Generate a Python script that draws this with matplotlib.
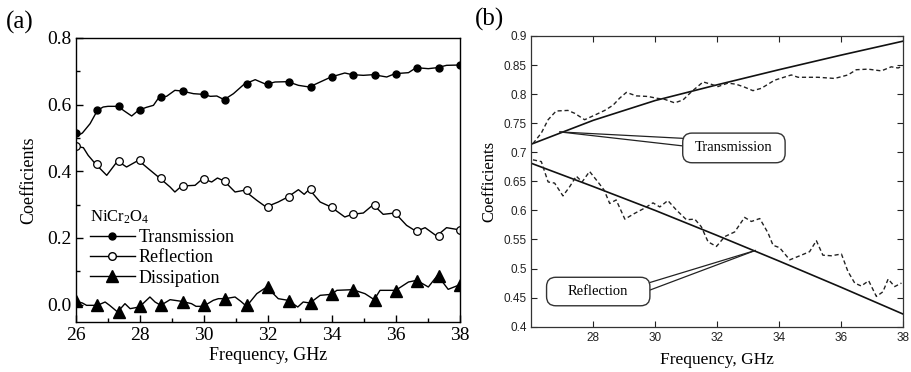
import matplotlib
matplotlib.use('Agg')
import matplotlib.pyplot as plt
import matplotlib.patches as mpatches
from matplotlib.lines import Line2D
from matplotlib.ticker import MultipleLocator, FixedLocator, FuncFormatter

plt.rcParams['font.family'] = ['Liberation Serif', 'DejaVu Serif']
plt.rcParams['mathtext.default'] = 'regular'

# ---- panel (a): NiCr2O4 measured coefficients ----
marker_freq = [26, 26.67, 27.33, 28, 28.67, 29.33, 30, 30.67, 31.33, 32,
               32.67, 33.33, 34, 34.67, 35.33, 36, 36.67, 37.33, 38]
trans_marks = [0.515, 0.583, 0.595, 0.583, 0.623, 0.641, 0.631, 0.615, 0.661, 0.662,
               0.669, 0.653, 0.683, 0.690, 0.690, 0.693, 0.711, 0.711, 0.719]
refl_marks = [0.475, 0.421, 0.431, 0.433, 0.381, 0.356, 0.378, 0.371, 0.343, 0.293,
              0.323, 0.346, 0.293, 0.271, 0.300, 0.275, 0.220, 0.206, 0.225]
diss_marks = [0.010, 0.000, -0.022, -0.005, 0.000, 0.008, -0.002, 0.018, 0.000, 0.053,
              0.012, 0.005, 0.031, 0.043, 0.014, 0.040, 0.070, 0.085, 0.060]

trans_f = [26.0, 26.07, 26.2, 26.44, 26.67, 26.85, 27.0, 27.33, 27.48, 27.74, 27.95,
           28.2, 28.42, 28.6, 28.83, 29.09, 29.3, 29.67, 29.96, 30.2, 30.4, 30.63,
           30.92, 31.25, 31.6, 31.94, 32.22, 32.62, 32.95, 33.29, 33.63, 33.97, 34.4,
           34.63, 34.98, 35.29, 35.71, 35.97, 36.39, 36.63, 37.01, 37.29, 37.58, 38.0]
trans_v = [0.515, 0.508, 0.515, 0.543, 0.583, 0.593, 0.595, 0.595, 0.583, 0.566, 0.583,
           0.592, 0.598, 0.623, 0.625, 0.643, 0.641, 0.633, 0.631, 0.625, 0.626, 0.615,
           0.633, 0.661, 0.675, 0.661, 0.668, 0.669, 0.658, 0.653, 0.668, 0.683, 0.695,
           0.690, 0.688, 0.690, 0.683, 0.693, 0.696, 0.711, 0.708, 0.711, 0.718, 0.719]

refl_f = [26.0, 26.23, 26.38, 26.62, 26.96, 27.3, 27.58, 27.95, 28.26, 28.6, 28.94,
          29.09, 29.3, 29.72, 29.96, 30.24, 30.42, 30.63, 30.97, 31.25, 31.65, 31.94,
          32.32, 32.62, 32.95, 33.13, 33.29, 33.63, 33.97, 34.4, 34.63, 34.98, 35.29,
          35.6, 35.97, 36.33, 36.63, 36.91, 37.27, 37.58, 37.95, 38.0]
refl_v = [0.475, 0.471, 0.448, 0.421, 0.388, 0.431, 0.413, 0.433, 0.408, 0.381, 0.353,
          0.338, 0.356, 0.358, 0.378, 0.368, 0.380, 0.371, 0.338, 0.343, 0.313, 0.293,
          0.308, 0.323, 0.345, 0.331, 0.346, 0.308, 0.293, 0.263, 0.271, 0.275, 0.300,
          0.271, 0.275, 0.238, 0.220, 0.231, 0.206, 0.231, 0.225, 0.225]

diss_f = [26.0, 26.2, 26.33, 26.67, 26.91, 27.05, 27.3, 27.53, 27.69, 27.98, 28.31,
          28.47, 28.65, 28.94, 29.3, 29.61, 29.75, 29.98, 30.29, 30.45, 30.66, 30.97,
          31.15, 31.33, 31.65, 31.96, 32.32, 32.63, 32.93, 33.1, 33.31, 33.63, 33.99,
          34.15, 34.65, 35.03, 35.32, 35.5, 35.99, 36.39, 36.65, 37.01, 37.3, 37.63, 38.0]
diss_v = [0.010, 0.005, -0.002, -0.002, 0.008, -0.002, -0.022, 0.003, -0.012, -0.007, 0.023,
          0.008, -0.002, 0.015, 0.010, 0.003, -0.005, -0.005, 0.013, 0.018, 0.018, 0.023,
          0.010, -0.005, 0.033, 0.053, 0.018, 0.013, -0.007, 0.008, 0.005, 0.028, 0.031,
          0.043, 0.045, 0.033, 0.015, 0.043, 0.043, 0.068, 0.073, 0.053, 0.088, 0.046, 0.060]

# ---- panel (b): calculated (solid) vs measured (dashed) ----
fit_f = [26, 28, 30, 32, 34, 36, 38]
fit_trans = [0.714, 0.755, 0.789, 0.816, 0.842, 0.867, 0.891]
fit_refl = [0.681, 0.641, 0.600, 0.557, 0.513, 0.468, 0.422]

meas_t_f = [26.05, 26.32, 26.54, 26.8, 27.18, 27.4, 27.72, 28.05, 28.37, 28.64, 28.85,
            29.07, 29.39, 29.77, 30.04, 30.31, 30.63, 30.9, 31.17, 31.55, 31.81, 32.03,
            32.35, 32.62, 32.89, 33.16, 33.43, 33.86, 34.4, 34.62, 35.26, 35.8, 36.23,
            36.5, 36.88, 37.31, 37.63, 37.85, 38.0]
meas_t_v = [0.715, 0.733, 0.756, 0.771, 0.772, 0.767, 0.756, 0.764, 0.772, 0.781, 0.793,
            0.803, 0.797, 0.796, 0.793, 0.791, 0.785, 0.790, 0.804, 0.821, 0.817, 0.813,
            0.819, 0.817, 0.812, 0.806, 0.810, 0.824, 0.833, 0.829, 0.829, 0.827, 0.833,
            0.842, 0.843, 0.840, 0.847, 0.845, 0.848]

meas_r_f = [26.05, 26.32, 26.54, 26.75, 27.02, 27.24, 27.45, 27.64, 27.88, 28.15, 28.35,
            28.53, 28.74, 29.02, 29.34, 29.66, 29.93, 30.15, 30.41, 30.68, 31.01, 31.28,
            31.49, 31.71, 31.98, 32.25, 32.57, 32.89, 33.11, 33.38, 33.65, 33.81, 34.02,
            34.35, 34.72, 34.99, 35.21, 35.42, 35.69, 36.02, 36.23, 36.45, 36.66, 36.9,
            37.15, 37.36, 37.53, 37.74, 37.96]
meas_r_v = [0.687, 0.684, 0.649, 0.647, 0.625, 0.641, 0.659, 0.649, 0.667, 0.649, 0.635,
            0.612, 0.618, 0.585, 0.595, 0.604, 0.613, 0.606, 0.617, 0.601, 0.584, 0.585,
            0.572, 0.546, 0.538, 0.555, 0.563, 0.588, 0.581, 0.586, 0.561, 0.540, 0.536,
            0.515, 0.523, 0.529, 0.548, 0.523, 0.522, 0.525, 0.495, 0.475, 0.470, 0.479,
            0.452, 0.460, 0.482, 0.469, 0.475]

fig = plt.figure(figsize=(9.12, 3.72), dpi=100)

# ================= (a) =================
ax1 = fig.add_axes([76/912, 50/372, 384/912, 284/372])
ax1.plot(trans_f, trans_v, color='k', lw=1.0)
ax1.plot(marker_freq, trans_marks, 'o', color='k', ms=5)
ax1.plot(refl_f, refl_v, color='k', lw=1.0)
ax1.plot(marker_freq, refl_marks, 'o', mfc='white', mec='k', mew=0.9, ms=5.5)
ax1.plot(diss_f, diss_v, color='k', lw=1.0)
ax1.plot(marker_freq, diss_marks, '^', color='k', ms=8)

ax1.set_xlim(26, 38)
ax1.set_ylim(-0.052, 0.8)
ax1.xaxis.set_major_locator(MultipleLocator(2))
ax1.xaxis.set_minor_locator(MultipleLocator(1))
ax1.yaxis.set_major_locator(MultipleLocator(0.2))
ax1.yaxis.set_minor_locator(MultipleLocator(0.1))
ax1.yaxis.set_major_formatter(FuncFormatter(lambda v, p: f'{v:.1f}'))
ax1.tick_params(which='both', direction='in', labelsize=14, top=False, right=False)
ax1.tick_params(which='major', length=5, width=1)
ax1.tick_params(which='minor', length=3, width=1)
for s in ax1.spines.values():
    s.set_linewidth(1.0)
ax1.set_xlabel('Frequency, GHz', fontsize=13, labelpad=2)
ax1.set_ylabel('Coefficients', fontsize=13, labelpad=7)

handles = [
    Line2D([], [], color='k', lw=1, marker='o', ms=5),
    Line2D([], [], color='k', lw=1, marker='o', mfc='white', mec='k', ms=5.5),
    Line2D([], [], color='k', lw=1, marker='^', ms=8),
]
leg = ax1.legend(handles, ['Transmission', 'Reflection', 'Dissipation'],
                 title='NiCr$_2$O$_4$', title_fontsize=12, fontsize=13,
                 loc='upper left', bbox_to_anchor=(0.036, 0.40), frameon=False,
                 borderpad=0, borderaxespad=0, handlelength=2.5, handletextpad=0.2,
                 labelspacing=0.18, alignment='left')

fig.text(6/912, 1 - 22/372, '(a)', fontsize=18, va='center', ha='left')

# ================= (b) =================
ax2 = fig.add_axes([531.4/912, 45.3/372, 371.3/912, 290.7/372])
ax2.plot(fit_f, fit_trans, color='#111111', lw=1.2)
ax2.plot(fit_f, fit_refl, color='#111111', lw=1.2)
ax2.plot(meas_t_f, meas_t_v, color='#222222', lw=1.0, ls=(0, (3, 2)))
ax2.plot(meas_r_f, meas_r_v, color='#222222', lw=1.0, ls=(0, (3, 2)))

ax2.set_xlim(26, 38)
ax2.set_ylim(0.4, 0.9)
ax2.xaxis.set_major_locator(FixedLocator([28, 30, 32, 34, 36, 38]))
ax2.yaxis.set_major_locator(MultipleLocator(0.05))
ax2.yaxis.set_major_formatter(FuncFormatter(lambda v, p: f'{round(v, 2):g}'))
ax2.tick_params(direction='in', length=4, width=0.8, top=True, right=True,
                labelsize=8.5, colors='#222222')
for lab in ax2.get_xticklabels() + ax2.get_yticklabels():
    lab.set_family(['Liberation Sans', 'DejaVu Sans'])
for s in ax2.spines.values():
    s.set_linewidth(0.9)
    s.set_color('#333333')
ax2.set_xlabel('Frequency, GHz', fontsize=12.5, labelpad=6)
ax2.set_ylabel('Coefficients', fontsize=12, labelpad=4)

# callouts
ax2.plot([26.92, 30.89], [0.735, 0.724], color='#222222', lw=0.9)
ax2.plot([26.92, 30.89], [0.735, 0.711], color='#222222', lw=0.9)
ax2.plot([33.23, 29.83], [0.531, 0.476], color='#222222', lw=0.9)
ax2.plot([33.23, 29.83], [0.531, 0.463], color='#222222', lw=0.9)

asp = (1 / 581.4) / (1 / 30.94)
for (x0, y0, x1, y1, txt) in [(30.89, 0.682, 34.2, 0.733, 'Transmission'),
                              (26.49, 0.436, 29.83, 0.485, 'Reflection')]:
    box = mpatches.FancyBboxPatch((x0, y0), x1 - x0, y1 - y0,
                                  boxstyle='round,pad=0,rounding_size=0.3',
                                  mutation_aspect=asp, fc='white', ec='#333333',
                                  lw=1.0, zorder=3)
    ax2.add_patch(box)
    ax2.text((x0 + x1) / 2, (y0 + y1) / 2, txt, ha='center', va='center',
             fontsize=10.5, zorder=4)

fig.text(475/912, 1 - 19/372, '(b)', fontsize=18, va='center', ha='left')

fig.savefig('out.png', dpi=100)
